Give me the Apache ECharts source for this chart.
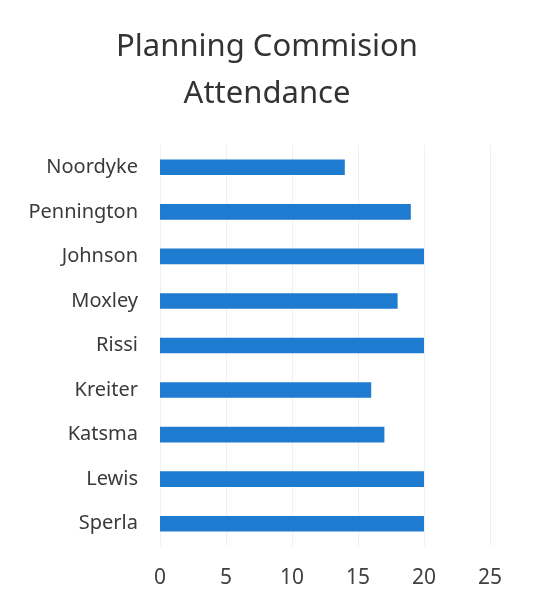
<!DOCTYPE html>
<html>
<head>
<meta charset="utf-8">
<script src="https://cdn.jsdelivr.net/npm/echarts@6/dist/echarts.min.js"></script>
<style>
html,body{margin:0;padding:0;background:#fff;}
#c{width:534px;height:609px;}
</style>
</head>
<body>
<div id="c"></div>
<script>
const categories = ["Noordyke","Pennington","Johnson","Moxley","Rissi","Kreiter","Katsma","Lewis","Sperla"];
const attendance = [14,19,20,18,20,16,17,20,20];
const xTicks = [0,5,10,15,20,25];

const chart = echarts.init(document.getElementById('c'));
chart.setOption({
  animation:false,
  backgroundColor:'#fff',
  title:{
    text:'Planning Commision\nAttendance',
    left:'center',
    top:19,
    textStyle:{fontFamily:'Noto Sans',fontSize:31,fontWeight:'normal',color:'#333333',lineHeight:47}
  },
  grid:{left:160,right:44,top:145,height:401,containLabel:false},
  xAxis:{
    type:'value',min:xTicks[0],max:xTicks[xTicks.length-1],interval:5,
    axisLine:{show:false},axisTick:{show:false},
    splitLine:{lineStyle:{color:'#f0f0f0',width:1}},
    axisLabel:{margin:22,fontFamily:'Noto Sans',fontSize:21,color:'#404040'}
  },
  yAxis:{
    type:'category',data:categories.slice().reverse(),
    axisLine:{show:false},axisTick:{show:false},
    axisLabel:{margin:22,fontFamily:'Noto Sans',fontSize:20,color:'#3a3a3a'}
  },
  series:[{
    type:'bar',data:attendance.slice().reverse(),
    barWidth:'35%',
    itemStyle:{color:'#1E7BD0'}
  }]
});
</script>
</body>
</html>
